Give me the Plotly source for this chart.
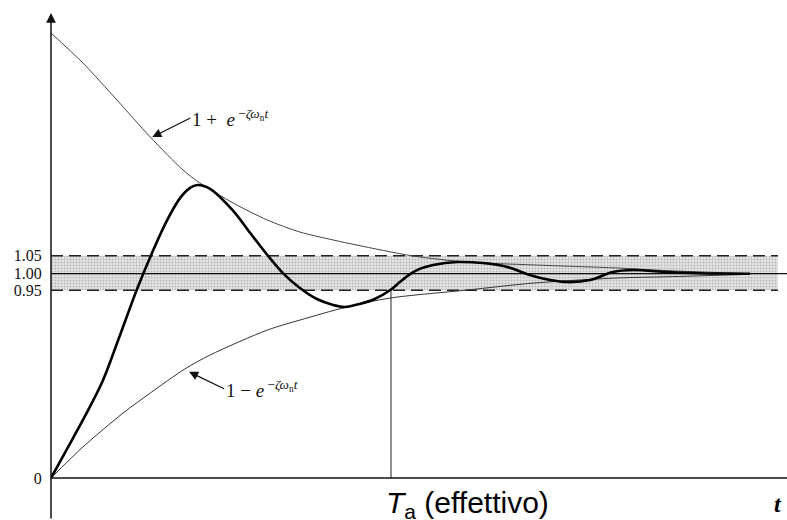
import plotly.graph_objects as go

# ---- data (schematic units: 0 -> 0, 1.00 -> 1) ----
t_resp = [0, 0.21, 0.47, 0.76, 1.01, 1.26, 1.46, 1.71, 1.90, 2.04, 2.15, 2.34,
          2.68, 2.93, 3.18, 3.41, 3.66, 3.91, 4.15, 4.32, 4.54, 4.76, 4.99, 5.13, 5.28, 5.43,
          5.62, 5.97, 6.35, 6.71, 7.04, 7.34, 7.59, 7.93, 8.26, 8.56, 9.06, 9.54, 10.28]
y_resp = [0, 0.127, 0.284, 0.475, 0.695, 0.920, 1.082, 1.263, 1.371, 1.419, 1.434, 1.415,
          1.307, 1.199, 1.092, 1.003, 0.930, 0.876, 0.847, 0.837, 0.852, 0.876, 0.920, 0.959, 0.998, 1.025,
          1.043, 1.057, 1.052, 1.033, 0.994, 0.969, 0.959, 0.969, 1.008, 1.018, 1.008, 1.002, 1.000]

t_env_up = [0, 0.47, 0.97, 1.46, 1.94, 2.19, 2.68, 3.18, 3.66, 4.15, 4.50, 5.32, 6.12, 7.09, 8.32, 9.06, 10.28]
y_env_up = [2.178, 2.031, 1.850, 1.669, 1.508, 1.444, 1.346, 1.263, 1.204, 1.165, 1.140, 1.087,
            1.057, 1.043, 1.028, 1.015, 1.000]

t_env_lo = [0, 0.47, 1.06, 1.46, 1.97, 2.34, 3.18, 3.66, 4.35, 4.99, 6.12, 7.09, 8.32, 9.06, 10.28]
y_env_lo = [0, 0.152, 0.318, 0.416, 0.534, 0.602, 0.724, 0.773, 0.837, 0.881, 0.920, 0.954,
            0.979, 0.985, 0.997]

band_levels = [0.919, 1.0, 1.088]          # picture positions of 0.95 / 1.00 / 1.05
band_labels = ["0.95", "1.00", "1.05"]
tick_vals = [0] + band_levels
tick_text = ["0"] + band_labels

t_settle = 5.0      # T_a (effettivo)
t_band_end = 10.69
t_max = 10.8235
y_min, y_max = -0.2056, 2.3397
y_axis_tip = 2.276
label_y = -0.13
t_label_y = -0.125

fig = go.Figure()

# shaded tolerance band
fig.add_trace(go.Scatter(x=[0, t_band_end], y=[band_levels[0]] * 2, mode="lines",
                         line=dict(width=0), hoverinfo="skip", showlegend=False))
fig.add_trace(go.Scatter(x=[0, t_band_end], y=[band_levels[2]] * 2, mode="lines",
                         line=dict(width=0), fill="tonexty", fillcolor="#dedede",
                         fillpattern=dict(shape=".", fgcolor="#8a8a8a", bgcolor="#e4e4e4",
                                          size=3, solidity=0.35),
                         hoverinfo="skip", showlegend=False))
# dashed band limits
for lvl in (band_levels[0], band_levels[2]):
    fig.add_trace(go.Scatter(x=[0, t_band_end], y=[lvl, lvl], mode="lines",
                             line=dict(color="#222", width=1.5, dash="12px,6px"),
                             showlegend=False))
# 1.00 line
fig.add_trace(go.Scatter(x=[0, t_max], y=[band_levels[1]] * 2, mode="lines",
                         line=dict(color="#111", width=1.3), showlegend=False))
# envelopes
fig.add_trace(go.Scatter(x=t_env_up, y=y_env_up, mode="lines",
                         line=dict(color="#444", width=1, shape="spline", smoothing=0.8),
                         showlegend=False))
fig.add_trace(go.Scatter(x=t_env_lo, y=y_env_lo, mode="lines",
                         line=dict(color="#333", width=1, shape="spline", smoothing=0.8),
                         showlegend=False))
# settling time marker
fig.add_trace(go.Scatter(x=[t_settle, t_settle], y=[0, band_levels[0]], mode="lines",
                         line=dict(color="#222", width=1), showlegend=False))
# step response
fig.add_trace(go.Scatter(x=t_resp, y=y_resp, mode="lines",
                         line=dict(color="#000", width=2.6, shape="spline", smoothing=0.8),
                         showlegend=False))

# x axis line
fig.add_shape(type="line", xref="paper", yref="y", x0=0, x1=1, y0=0, y1=0,
              line=dict(color="#111", width=1.5))

serif = "Liberation Serif"
ann = [
    # y axis with arrow
    dict(x=0, y=y_axis_tip, ax=0, ay=y_min, axref="x", ayref="y", xref="x", yref="y",
         text="", showarrow=True, arrowhead=2, arrowsize=1.3, arrowwidth=1.5,
         arrowcolor="#111", standoff=0, startstandoff=0),
    # upper envelope label
    dict(x=1.49, y=1.669, ax=38, ay=-19, xref="x", yref="y", xanchor="left", yanchor="middle",
         text="1 +  <i>e</i><sup> −<i>ζω</i><sub>n</sub><i>t</i></sup>",
         font=dict(family=serif, size=19, color="#111"), showarrow=True, arrowhead=2,
         arrowsize=1.4, arrowwidth=1.3, arrowcolor="#111", standoff=0),
    # lower envelope label
    dict(x=2.03, y=0.520, ax=35, ay=17, xref="x", yref="y", xanchor="left", yanchor="middle",
         text="1 − <i>e</i><sup> −<i>ζω</i><sub>n</sub><i>t</i></sup>",
         font=dict(family=serif, size=19, color="#111"), showarrow=True, arrowhead=2,
         arrowsize=1.4, arrowwidth=1.3, arrowcolor="#111", standoff=0),
    # T_a label
    dict(x=t_settle, y=label_y, xref="x", yref="y", xanchor="left", yanchor="middle",
         xshift=-7, text="<i>T</i><sub>a</sub> (effettivo)", showarrow=False,
         font=dict(family="Liberation Sans", size=30, color="#000")),
    # t label
    dict(x=t_band_end, y=t_label_y, xref="x", yref="y", xanchor="center", yanchor="middle",
         text="<b><i>t</i></b>", showarrow=False,
         font=dict(family=serif, size=24, color="#000")),
]

fig.update_layout(
    width=787, height=520,
    margin=dict(l=51, r=0, t=0, b=0),
    paper_bgcolor="white", plot_bgcolor="white",
    annotations=ann,
    xaxis=dict(range=[0, t_max], showgrid=False, zeroline=False, showline=False,
               showticklabels=False, ticks=""),
    yaxis=dict(range=[y_min, y_max], showgrid=False, zeroline=False, showline=False,
               tickmode="array", tickvals=tick_vals, ticktext=tick_text,
               ticks="outside", ticklen=5, tickcolor="rgba(0,0,0,0)",
               tickfont=dict(family=serif, size=16, color="#111")),
)

fig.write_html("out.html", config={"displayModeBar": False},
               post_script="document.body.style.margin='0';document.body.style.overflow='hidden';")
